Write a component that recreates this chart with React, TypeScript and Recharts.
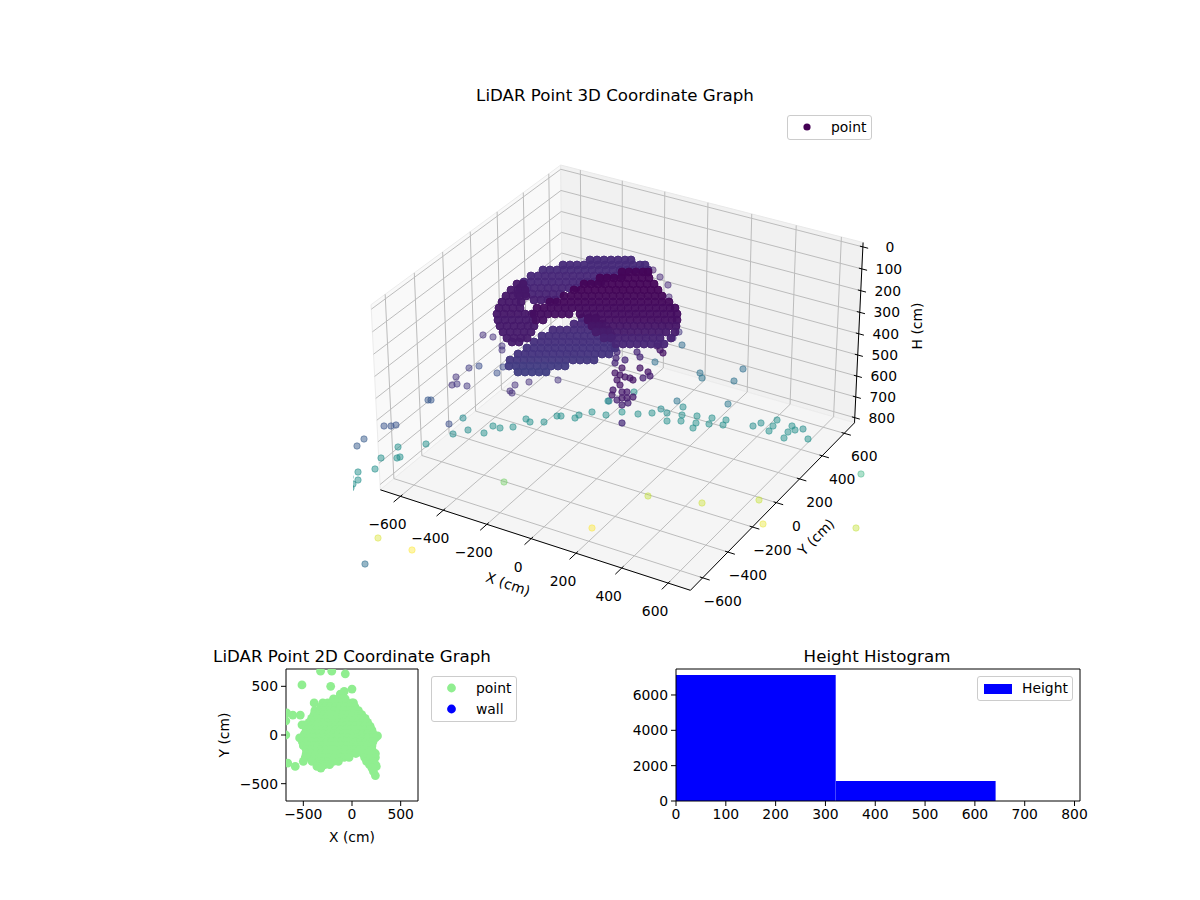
import { Bar, BarChart, Legend, ReferenceLine, Scatter, ScatterChart, XAxis, YAxis } from 'recharts'

const FONT = '"DejaVu Sans", sans-serif'
const TICK = { fill: '#000', fontSize: 13.9, fontFamily: FONT }
const minus = (v: number) => String(v).replace('-', '\u2212')

// --- 3D frame ------------------------------------------------------------
const xyTicks = [-600, -400, -200, 0, 200, 400, 600]
const heightTicks = [0, 100, 200, 300, 400, 500, 600, 700, 800]
const XY_LIM = 695
const H_TOP = -20
const H_BOTTOM = 825

// same camera matplotlib uses: elev 30, azim -60, dist 10
function project(x: number, y: number, h: number) {
  const dx = (x / XY_LIM) * 0.62
  const dy = (y / XY_LIM) * 0.62
  const dz = (0.5 - (h - H_TOP) / (H_BOTTOM - H_TOP)) * 0.74
  const xv = 0.866 * dx + 0.5 * dy
  const yv = -0.25 * dx + 0.433 * dy + 0.866 * dz
  const depth = 10 - (0.433 * dx - 0.75 * dy + 0.5 * dz)
  return { x: 622 + (2850 * xv) / depth, y: 366 - (2850 * yv) / depth }
}

const L = -XY_LIM
const R = XY_LIM
const leftPane = [[L, L, H_BOTTOM], [L, R, H_BOTTOM], [L, R, H_TOP], [L, L, H_TOP], [L, L, H_BOTTOM]]
const backPane = [[L, R, H_BOTTOM], [R, R, H_BOTTOM], [R, R, H_TOP], [L, R, H_TOP], [L, R, H_BOTTOM]]
const floorPane = [[L, L, H_BOTTOM], [R, L, H_BOTTOM], [R, R, H_BOTTOM], [L, R, H_BOTTOM], [L, L, H_BOTTOM]]
const panePoints = (p: number[][]) => p.map(([x, y, h]) => project(x, y, h))

// --- 3D points, read off the view plane ---------------------------------
// rows of the dense cloud: [plane y, height, ...plane x]
const arcRows = [
  [260, 95, 590, 597, 604, 611, 618, 625, 631],
  [265, 95, 563, 570, 577, 584, 591, 598, 605, 612, 619, 626, 633, 640, 645],
  [270, 95, 543, 550, 557, 564, 571, 578, 585, 592, 599, 606, 613, 620, 627, 634, 641, 648],
  [276, 90, 531, 538, 545, 552, 559, 566, 573, 580, 587, 594, 601, 608, 615, 622],
  [282, 90, 524, 531, 538, 545, 552, 559, 566, 573, 580, 587, 594, 601],
  [288, 85, 520, 527, 534, 541, 548, 555, 562, 569, 576],
  [294, 80, 518, 525, 532, 539, 546, 553, 560],
  [300, 70, 534, 541, 548, 555],
]
const limbRows = [
  [318, 90, 582, 589, 596],
  [324, 90, 574, 581, 588, 595, 602],
  [330, 100, 553, 560, 567, 574, 581, 588, 595, 602, 608],
  [336, 105, 542, 549, 556, 563, 570, 577, 584, 591, 598, 605, 612],
  [342, 110, 534, 541, 548, 555, 562, 569, 576, 583, 590, 597, 604, 611],
  [348, 115, 527, 534, 541, 548, 555, 562, 569, 576, 583, 590, 597, 604, 611, 615],
  [354, 120, 518, 525, 532, 539, 546, 553, 560, 567, 574, 581, 588, 595, 602, 609],
  [360, 130, 510, 517, 524, 531, 538, 545, 552, 559, 566, 573, 580, 587, 594],
  [366, 140, 509, 516, 523, 530, 537, 544, 551, 558, 565],
  [372, 150, 518, 525, 532, 539, 546],
]
const lobeRows = [
  [284, 50, 517, 523],
  [290, 50, 511, 518, 525],
  [296, 50, 506, 513, 520, 526],
  [302, 50, 502, 509, 516, 521],
  [308, 50, 499, 506, 513, 520],
  [314, 50, 497, 504, 511, 518, 525, 532],
  [320, 55, 498, 505, 512, 519, 526, 533],
  [326, 55, 500, 507, 514, 521, 528, 534],
  [332, 60, 503, 510, 517, 524, 531],
  [338, 60, 507, 514, 521, 527],
  [342, 60, 512, 519],
]
const bodyRows = [
  [272, 10, 622, 629, 636, 643, 648],
  [278, 10, 600, 607, 614, 621, 628, 635, 642, 649],
  [284, 10, 584, 591, 598, 605, 612, 619, 626, 633, 640, 647, 654],
  [290, 10, 574, 581, 588, 595, 602, 609, 616, 623, 630, 637, 644, 651, 658],
  [296, 15, 564, 571, 578, 585, 592, 599, 606, 613, 620, 627, 634, 641, 648, 655, 662],
  [302, 20, 550, 557, 564, 571, 578, 585, 592, 599, 606, 613, 620, 627, 634, 641, 648, 655, 662, 669],
  [308, 25, 537, 544, 551, 558, 565, 572, 579, 586, 593, 600, 607, 614, 621, 628, 635, 642, 649, 656, 663, 670, 675],
  [314, 30, 534, 541, 548, 555, 562, 569, 580, 587, 594, 601, 608, 615, 622, 629, 636, 643, 650, 657, 664, 671, 677],
  [320, 35, 536, 543, 588, 595, 602, 609, 616, 623, 630, 637, 644, 651, 658, 665, 672, 677],
  [326, 45, 592, 599, 606, 613, 620, 627, 634, 641, 648, 655, 662, 669, 676],
  [332, 60, 596, 603, 610, 617, 624, 631, 638, 645, 652, 659, 666, 675],
  [338, 75, 604, 611, 618, 625, 632, 639, 646, 653, 660, 671],
  [344, 85, 616, 623, 630, 637, 644, 651, 658, 664],
]
// loose points: [plane x, plane y, height]
const stemPoints = [
  [617, 352, 90], [616, 358, 90], [615, 363, 90], [625, 360, 90], [637, 352, 90], [640, 357, 90],
  [663, 353, 40], [657, 346, 60], [660, 350, 50], [640, 368, 50], [648, 372, 50], [643, 378, 80],
  [650, 376, 70], [622, 368, 50], [615, 373, 50], [620, 375, 50], [625, 377, 50], [630, 378, 50],
  [633, 380, 50], [617, 380, 50], [620, 385, 50], [613, 390, 60], [612, 395, 60], [617, 400, 80],
  [622, 392, 60], [622, 398, 60], [627, 392, 60], [627, 398, 60], [633, 397, 60], [622, 405, 80],
  [628, 403, 80], [622, 423, 100],
]
const loosePurple = [
  [483, 335, 110], [493, 337, 110], [502, 350, 120], [502, 346, 120], [510, 391, 110], [512, 393, 110],
  [515, 385, 110], [529, 382, 110], [558, 380, 120], [653, 270, 70], [660, 277, 90], [668, 285, 100],
  [669, 297, 90], [679, 332, 130], [673, 338, 120], [456, 377, 120], [452, 385, 120], [457, 384, 130],
  [467, 386, 130], [469, 368, 140], [479, 366, 190], [497, 373, 200], [503, 367, 180],
]
const looseBlue = [
  [384, 426, 210], [391, 426, 210], [396, 425, 210], [428, 400, 220], [431, 400, 220], [449, 424, 190],
  [357, 446, 230], [364, 439, 230], [365, 564, 290], [682, 345, 280], [655, 362, 290], [700, 373, 300],
  [702, 378, 310], [734, 381, 300], [743, 369, 290], [677, 401, 310], [728, 404, 320], [609, 401, 340],
]
const looseTeal = [
  [453, 434, 390], [468, 430, 390], [463, 418, 380], [484, 433, 400], [493, 426, 400], [500, 428, 400],
  [513, 427, 400], [526, 419, 400], [530, 422, 400], [544, 422, 400], [557, 416, 400], [561, 416, 400],
  [575, 418, 400], [579, 415, 400], [592, 412, 400], [606, 415, 400], [426, 444, 400], [398, 447, 400],
  [397, 458, 400], [400, 457, 400], [381, 458, 400], [375, 469, 400], [358, 472, 400], [358, 480, 400],
  [353, 484, 400], [350, 477, 390], [351, 488, 400], [622, 412, 410], [608, 401, 400], [634, 392, 400],
  [638, 414, 400], [652, 413, 400], [661, 409, 380], [667, 413, 390], [667, 421, 400], [681, 421, 400],
  [682, 415, 400], [683, 407, 390], [697, 416, 400], [696, 423, 400], [693, 428, 400], [709, 424, 400],
  [712, 418, 400], [723, 425, 400], [726, 420, 400], [753, 426, 390], [761, 423, 390], [769, 431, 400],
  [773, 426, 400], [777, 420, 400], [784, 438, 400], [788, 432, 400], [792, 426, 400], [795, 430, 400],
  [803, 429, 390], [808, 439, 410],
]
const looseLight = [
  [504, 482, 620], [378, 538, 760], [412, 550, 807], [592, 528, 807], [648, 496, 730], [702, 503, 745],
  [759, 500, 735], [763, 524, 780], [856, 528, 730], [861, 474, 520],
]

const fromRows = (rows: number[][]) =>
  rows.flatMap(([y, h, ...xs]) => xs.map((x) => ({ x, y, h })))
const fromTuples = (rows: number[][]) => rows.map(([x, y, h]) => ({ x, y, h }))

const viridisStops = ['#440154', '#482878', '#3e4989', '#31688e', '#26828e', '#1f9e89', '#35b779', '#6ece58', '#b5de2b', '#fde725']
function viridis(h: number) {
  const t = (Math.min(h, 807) / 807) * (viridisStops.length - 1)
  const i = Math.floor(t)
  const a = viridisStops[i]
  const b = viridisStops[Math.min(i + 1, viridisStops.length - 1)]
  const ch = (s: string, k: number) => parseInt(s.slice(1 + k * 2, 3 + k * 2), 16)
  const mix = [0, 1, 2].map((k) => Math.round(ch(a, k) + (ch(b, k) - ch(a, k)) * (t - i)))
  return `rgb(${mix.join(',')})`
}

const makeDot = (r: number, alpha: number) => (p: any) => {
  if (p.cx == null) return null
  const c = viridis(p.payload.h)
  return <circle cx={p.cx} cy={p.cy} r={r} fill={c} stroke={c} strokeWidth={1} fillOpacity={alpha} strokeOpacity={alpha} />
}
const LooseDot = makeDot(3.2, 0.5)
const StemDot = makeDot(3.2, 0.72)
const LightDot = makeDot(3.2, 0.4)
const CloudDot = makeDot(4, 0.95)

const TextMark = (p: any) => {
  if (p.cx == null) return null
  const { label, rotate = 0 } = p.payload
  return (
    <text x={p.cx} y={p.cy} textAnchor="middle" dominantBaseline="central" fontFamily={FONT} fontSize={13.9} fill="#000"
      transform={rotate ? `rotate(${rotate} ${p.cx} ${p.cy})` : undefined}>
      {label}
    </text>
  )
}
const NoDot = () => null

const frameLabels = [
  ...xyTicks.map((t) => {
    const p = project(t, L, H_BOTTOM)
    return { x: p.x - 13, y: p.y + 28, label: minus(t) }
  }),
  ...xyTicks.map((t) => {
    const p = project(R, t, H_BOTTOM)
    return { x: p.x + 20, y: p.y + 23, label: minus(t) }
  }),
  ...heightTicks.map((t) => {
    const p = project(R, R, t)
    return { x: p.x + 27, y: p.y, label: String(t) }
  }),
  { x: 508, y: 584, label: 'X (cm)', rotate: 19 },
  { x: 816, y: 537, label: 'Y (cm)', rotate: -45 },
  { x: 917, y: 326, label: 'H (cm)', rotate: -90 },
]

function seg(a: number[], b: number[], stroke: string, width: number, key: string) {
  const p = project(a[0], a[1], a[2])
  const q = project(b[0], b[1], b[2])
  return <ReferenceLine key={key} segment={[{ x: p.x, y: p.y }, { x: q.x, y: q.y }]} stroke={stroke} strokeWidth={width} ifOverflow="visible" />
}

function gridLines() {
  const out: any[] = []
  const c = '#bcbcbc'
  xyTicks.forEach((t) => {
    out.push(seg([t, L, H_BOTTOM], [t, R, H_BOTTOM], c, 1, `gx${t}`), seg([t, R, H_BOTTOM], [t, R, H_TOP], c, 1, `wx${t}`))
    out.push(seg([L, t, H_BOTTOM], [R, t, H_BOTTOM], c, 1, `gy${t}`), seg([L, t, H_BOTTOM], [L, t, H_TOP], c, 1, `wy${t}`))
    out.push(seg([t, L - 48, H_BOTTOM], [t, L + 14, H_BOTTOM], '#000', 1, `tx${t}`))
    out.push(seg([R - 12, t, H_BOTTOM], [R + 30, t, H_BOTTOM], '#000', 1, `ty${t}`))
  })
  heightTicks.forEach((t) => {
    out.push(seg([L, L, t], [L, R, t], c, 1, `hl${t}`), seg([L, R, t], [R, R, t], c, 1, `hb${t}`))
    out.push(seg([R - 13, R, t], [R + 23, R, t], '#000', 1, `th${t}`))
  })
  out.push(seg([L, L, H_BOTTOM], [R, L, H_BOTTOM], '#000', 1, 'ax'))
  out.push(seg([R, L, H_BOTTOM], [R, R, H_BOTTOM], '#000', 1, 'ay'))
  out.push(seg([R, R, H_BOTTOM], [R, R, H_TOP], '#000', 1, 'az'))
  return out
}

// --- 2D scatter: rows [y, ...x] in cm --------------------------------------
const topDownRows = [
  [656, -323, -208],
  [628, -69],
  [514, -514],
  [500, -219],
  [472, 0],
  [448, -80],
  [420, -120],
  [372, -190, -140, -100, -70],
  [330, -389, -300, -250, -200, -150, -100, -50, 0, 15],
  [290, -320, -270, -220, -170, -120, -70, -20, 30],
  [250, -382, -330, -280, -230, -180, -130, -80, -30, 20, 66],
  [226, -670],
  [205, -608, -531],
  [210, -390, -340, -290, -240, -190, -140, -90, -40, 10, 60, 100],
  [170, -415, -360, -310, -260, -210, -160, -110, -60, -10, 40, 90, 135],
  [146, -680],
  [130, -440, -390, -340, -290, -240, -190, -140, -90, -40, 10, 60, 110, 160],
  [105, -486, -514],
  [90, -470, -420, -370, -320, -270, -220, -170, -120, -70, -20, 30, 80, 130, 187],
  [50, -470, -420, -370, -320, -270, -220, -170, -120, -70, -20, 30, 80, 130, 180, 205],
  [10, -490, -440, -390, -340, -290, -240, -190, -140, -90, -40, 10, 60, 110, 160, 220],
  [0, -680],
  [-10, 262],
  [-30, -538, -490, -440, -390, -340, -290, -240, -190, -140, -90, -40, 10, 60, 110, 160, 210, 240],
  [-70, -510, -460, -410, -360, -310, -260, -210, -160, -110, -60, -10, 40, 90, 140, 190, 215],
  [-110, -500, -450, -400, -350, -300, -250, -200, -150, -100, -50, 0, 50, 100, 150, 205],
  [-150, -470, -420, -370, -320, -270, -220, -170, -120, -70, -20, 30, 80, 130, 205],
  [-190, -470, -420, -370, -320, -270, -220, -170, -120, -70, -20, 40, 110, 160, 240],
  [-230, -480, -430, -380, -330, -280, -230, -180, -130, -80, -30, 130, 190, 240],
  [-270, -500, -410, -340, -290, -240, -190, -140, 150, 215],
  [-288, -660],
  [-305, -340, -280, -230, 180, 240],
  [-323, -583, -360, -310, 250],
  [-340, -320, 205],
  [-375, 220],
  [-417, 240],
]
const topDownPoints = topDownRows.flatMap(([y, ...xs]) => xs.map((x) => ({ x, y })))
const wallPoints: { x: number; y: number }[] = []

// --- histogram ---------------------------------------------------------------
const binCenters = [160.5, 481.5, 802.5]
const binCounts = [7130, 1135, 0]
const histData = binCenters.map((center, i) => ({ center, count: binCounts[i] }))

function BoxLegend({ items, w, h, gap }: any) {
  return (
    <div style={{ width: w, height: h, boxSizing: 'border-box', background: 'rgba(255,255,255,0.8)', border: '1px solid #ccc', borderRadius: 3, position: 'relative', fontFamily: FONT, fontSize: 13.9, color: '#000' }}>
      {items.map((it: any, i: number) => (
        <div key={it.name} style={{ position: 'absolute', left: it.textX, top: 3 + i * gap, lineHeight: '16px' }}>
          {it.name}
        </div>
      ))}
      <svg width={w} height={h} style={{ position: 'absolute', left: 0, top: 0 }}>
        {items.map((it: any, i: number) =>
          it.bar ? (
            <rect key={it.name} x={6} y={7} width={28} height={10} fill={it.color} />
          ) : (
            <circle key={it.name} cx={it.cx} cy={11 + i * gap} r={it.r} fill={it.color} />
          ),
        )}
      </svg>
    </div>
  )
}

const abs = (left: number, top: number, width: number, height: number): any => ({ position: 'absolute', left, top, width, height })

const hiddenAxes = (xd: number[], yd: number[]) => [
  <XAxis key="x" type="number" dataKey="x" domain={xd} hide allowDataOverflow />,
  <YAxis key="y" type="number" dataKey="y" domain={yd} hide reversed allowDataOverflow />,
]
const NO_MARGIN = { top: 0, right: 0, bottom: 0, left: 0 }

export default function App() {
  return (
    <div style={{ position: 'absolute', left: 0, top: 0, width: 1200, height: 900, background: '#fff', overflow: 'hidden' }}>
      {/* panes sit in their own chart: reference lines are painted under series */}
      <div style={abs(0, 0, 1200, 640)}>
        <ScatterChart width={1200} height={640} margin={NO_MARGIN}>
          {hiddenAxes([0, 1200], [0, 640])}
          <Scatter data={panePoints(leftPane)} shape={NoDot} line={{ fill: '#f9f9f9', stroke: '#ececec', strokeWidth: 1 }} isAnimationActive={false} />
          <Scatter data={panePoints(backPane)} shape={NoDot} line={{ fill: '#f1f1f1', stroke: '#e9e9e9', strokeWidth: 1 }} isAnimationActive={false} />
          <Scatter data={panePoints(floorPane)} shape={NoDot} line={{ fill: '#f5f5f5', stroke: '#ececec', strokeWidth: 1 }} isAnimationActive={false} />
        </ScatterChart>
      </div>

      <div style={abs(0, 0, 1200, 640)}>
        <ScatterChart width={1200} height={640} margin={NO_MARGIN}>
          {hiddenAxes([0, 1200], [0, 640])}
          {gridLines()}
          <Scatter data={frameLabels} shape={TextMark} isAnimationActive={false} />
          <text x={615} y={95} textAnchor="middle" dominantBaseline="central" fontFamily={FONT} fontSize={16.67}>LiDAR Point 3D Coordinate Graph</text>
          <Legend verticalAlign="middle" layout="horizontal" wrapperStyle={{ left: 787, top: 115, width: 85, height: 25 }}
            content={() => <BoxLegend w={85} h={25} gap={21} items={[{ name: 'point', textX: 43, cx: 19, r: 3.6, color: '#440154' }]} />} />
        </ScatterChart>
      </div>

      <div style={abs(353, 100, 527, 530)}>
        <ScatterChart width={527} height={530} margin={NO_MARGIN}>
          {hiddenAxes([353, 880], [100, 630])}
          <Scatter data={fromTuples(looseLight)} shape={LightDot} isAnimationActive={false} />
          <Scatter data={fromTuples(looseTeal)} shape={LooseDot} isAnimationActive={false} />
          <Scatter data={fromTuples(looseBlue)} shape={LooseDot} isAnimationActive={false} />
          <Scatter data={fromTuples(loosePurple)} shape={LooseDot} isAnimationActive={false} />
          <Scatter data={fromTuples(stemPoints)} shape={StemDot} isAnimationActive={false} />
          {[arcRows, limbRows, lobeRows, bodyRows].map((g, i) => (
            <Scatter key={i} data={fromRows(g)} shape={CloudDot} isAnimationActive={false} />
          ))}
        </ScatterChart>
      </div>

      <div style={abs(206, 640, 340, 220)}>
        <ScatterChart width={340} height={220} margin={{ top: 29, right: 128, bottom: 0, left: 0 }}>
          <XAxis type="number" dataKey="x" domain={[-678, 678]} ticks={[-500, 0, 500]} tickFormatter={minus} allowDataOverflow
            height={59} tick={TICK} tickSize={5} tickMargin={3} stroke="#000"
            label={{ value: 'X (cm)', position: 'insideBottom', offset: 18, fontSize: 13.9, fontFamily: FONT, fill: '#000' }} />
          <YAxis type="number" dataKey="y" domain={[-678, 678]} ticks={[-500, 0, 500]} tickFormatter={minus} allowDataOverflow
            width={80} tick={TICK} tickSize={5} tickMargin={3} stroke="#000"
            label={{ value: 'Y (cm)', angle: -90, position: 'insideLeft', offset: 18, fontSize: 13.9, fontFamily: FONT, fill: '#000', style: { textAnchor: 'middle' } }} />
          <ReferenceLine x={678} stroke="#000" />
          <ReferenceLine y={678} stroke="#000" />
          <Scatter name="point" data={topDownPoints} isAnimationActive={false}
            shape={(p: any) => <circle cx={p.cx} cy={p.cy} r={4.4} fill="#90ee90" />} />
          <Scatter name="wall" data={wallPoints} fill="#0000ff" isAnimationActive={false} />
          <text x={146} y={16} textAnchor="middle" dominantBaseline="central" fontFamily={FONT} fontSize={16.67}>LiDAR Point 2D Coordinate Graph</text>
          <Legend verticalAlign="middle" layout="horizontal" wrapperStyle={{ left: 225, top: 36, width: 86, height: 46 }}
            content={() => <BoxLegend w={86} h={46} gap={21} items={[{ name: 'point', textX: 44, cx: 19.5, r: 4.4, color: '#90ee90' }, { name: 'wall', textX: 44, cx: 19.5, r: 4.4, color: '#0000ff' }]} />} />
        </ScatterChart>
      </div>

      <div style={abs(616, 640, 480, 220)}>
        <BarChart width={480} height={220} data={histData} barCategoryGap={0} barGap={0} margin={{ top: 29, right: 16, bottom: 0, left: 0 }}>
          <XAxis type="number" dataKey="center" domain={[0, 811]} ticks={[0, 100, 200, 300, 400, 500, 600, 700, 800]} allowDataOverflow
            height={59} tick={TICK} tickSize={5} tickMargin={3} stroke="#000" />
          <YAxis type="number" domain={[0, 7470]} ticks={[0, 2000, 4000, 6000]} width={60} tick={TICK} tickSize={5} tickMargin={3} stroke="#000" />
          <ReferenceLine x={811} stroke="#000" />
          <ReferenceLine y={7470} stroke="#000" />
          <Bar dataKey="count" fill="#0000ff" barSize={159.7} isAnimationActive={false} />
          <text x={261} y={16} textAnchor="middle" dominantBaseline="central" fontFamily={FONT} fontSize={16.67}>Height Histogram</text>
          <Legend verticalAlign="middle" layout="horizontal" wrapperStyle={{ left: 361, top: 36, width: 96, height: 25 }}
            content={() => <BoxLegend w={96} h={25} gap={21} items={[{ name: 'Height', textX: 44, bar: true, color: '#0000ff' }]} />} />
        </BarChart>
      </div>
    </div>
  )
}
